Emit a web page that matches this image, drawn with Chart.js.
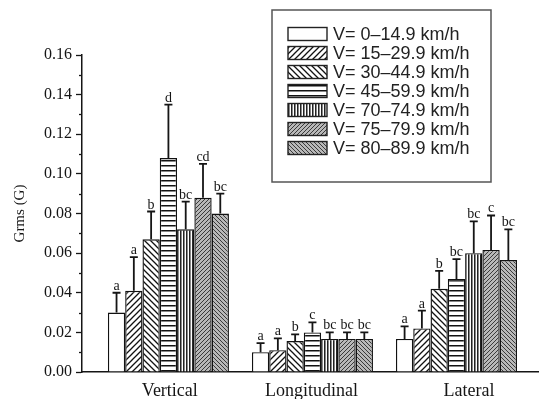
<!DOCTYPE html>
<html><head><meta charset="utf-8">
<script src="https://cdn.jsdelivr.net/npm/chart.js@4.4.1/dist/chart.umd.min.js"></script>
<style>html,body{margin:0;padding:0;background:#fff}#wrap{width:539px;height:399px;position:relative}</style>
</head><body><div id="wrap"><canvas id="c" width="539" height="399"></canvas></div>
<script>
// ---- data ----
const categories = ['Vertical', 'Longitudinal', 'Lateral'];
const seriesLabels = ['V= 0–14.9 km/h', 'V= 15–29.9 km/h', 'V= 30–44.9 km/h', 'V= 45–59.9 km/h',
                      'V= 70–74.9 km/h', 'V= 75–79.9 km/h', 'V= 80–89.9 km/h'];
const yTickValues = [0, 0.02, 0.04, 0.06, 0.08, 0.10, 0.12, 0.14, 0.16];
// mean Grms per category [Vertical, Longitudinal, Lateral]
const v0_15  = [0.030, 0.010, 0.0167];
const v15_30 = [0.041, 0.011, 0.022];
const v30_45 = [0.067, 0.0156, 0.042];
const v45_60 = [0.108, 0.020, 0.047];
const v70_75 = [0.072, 0.0167, 0.060];
const v75_80 = [0.088, 0.0167, 0.0616];
const v80_90 = [0.080, 0.0167, 0.0565];
// upper error (SD)
const e0_15  = [0.010, 0.0046, 0.0063];
const e15_30 = [0.017, 0.006, 0.009];
const e30_45 = [0.014, 0.0034, 0.009];
const e45_60 = [0.027, 0.005, 0.010];
const e70_75 = [0.014, 0.0033, 0.016];
const e75_80 = [0.017, 0.0033, 0.0174];
const e80_90 = [0.010, 0.0033, 0.0155];
// significance letters
const l0_15  = ['a', 'a', 'a'];
const l15_30 = ['a', 'a', 'a'];
const l30_45 = ['b', 'b', 'b'];
const l45_60 = ['d', 'c', 'bc'];
const l70_75 = ['bc', 'bc', 'bc'];
const l75_80 = ['cd', 'bc', 'c'];
const l80_90 = ['bc', 'bc', 'bc'];

const seriesValues = [v0_15, v15_30, v30_45, v45_60, v70_75, v75_80, v80_90];
const seriesErrors = [e0_15, e15_30, e30_45, e45_60, e70_75, e75_80, e80_90];
const seriesLetters = [l0_15, l15_30, l30_45, l45_60, l70_75, l75_80, l80_90];

// ---- patterns ----
function makePattern(kind) {
  const c = document.createElement('canvas');
  const x = c.getContext('2d');
  if (kind === 'white') {
    c.width = c.height = 4; x.fillStyle = '#fff'; x.fillRect(0, 0, 4, 4);
  } else if (kind === 'fwd' || kind === 'back') {
    const s = 6; c.width = c.height = s;
    x.fillStyle = '#fff'; x.fillRect(0, 0, s, s);
    x.strokeStyle = '#111'; x.lineWidth = 1.3;
    x.beginPath();
    if (kind === 'fwd') {
      x.moveTo(0, s); x.lineTo(s, 0);
      x.moveTo(-1, 1); x.lineTo(1, -1);
      x.moveTo(s - 1, s + 1); x.lineTo(s + 1, s - 1);
    } else {
      x.moveTo(0, 0); x.lineTo(s, s);
      x.moveTo(-1, s - 1); x.lineTo(1, s + 1);
      x.moveTo(s - 1, -1); x.lineTo(s + 1, 1);
    }
    x.stroke();
  } else if (kind === 'horiz') {
    c.width = 2; c.height = 5;
    x.fillStyle = '#fff'; x.fillRect(0, 0, 2, 5);
    x.fillStyle = '#111'; x.fillRect(0, 0, 2, 1.5);
  } else if (kind === 'vert') {
    c.width = 3; c.height = 2;
    x.fillStyle = '#fff'; x.fillRect(0, 0, 3, 2);
    x.fillStyle = '#222'; x.fillRect(0, 0, 1, 2);
    x.fillStyle = '#888'; x.fillRect(1, 0, 1, 2);
  } else if (kind === 'grayFwd' || kind === 'grayBack') {
    const s = 4; c.width = c.height = s;
    x.fillStyle = '#b8b8b8'; x.fillRect(0, 0, s, s);
    x.strokeStyle = '#3a3a3a'; x.lineWidth = 1;
    x.beginPath();
    if (kind === 'grayFwd') {
      x.moveTo(0, s); x.lineTo(s, 0);
      x.moveTo(-1, 1); x.lineTo(1, -1);
      x.moveTo(s - 1, s + 1); x.lineTo(s + 1, s - 1);
    } else {
      x.moveTo(0, 0); x.lineTo(s, s);
      x.moveTo(-1, s - 1); x.lineTo(1, s + 1);
      x.moveTo(s - 1, -1); x.lineTo(s + 1, 1);
    }
    x.stroke();
  }
  return document.getElementById('c').getContext('2d').createPattern(c, 'repeat');
}
const patternKinds = ['white', 'fwd', 'back', 'horiz', 'vert', 'grayFwd', 'grayBack'];
const patterns = patternKinds.map(makePattern);

const datasets = seriesValues.map((vals, i) => ({
  label: seriesLabels[i],
  data: vals.map((v, j) => ({ x: j, y: v })),
  backgroundColor: patterns[i],
  borderColor: '#111',
  borderWidth: 1.4,
  categoryPercentage: 0.855,
  barPercentage: 1.0
}));

const INK = '#151515';
const serif = '"Liberation Serif", "DejaVu Serif", serif';

const extras = {
  id: 'extras',
  afterDatasetsDraw(chart) {
    const ctx = chart.ctx;
    const y = chart.scales.y;
    const area = chart.chartArea;
    ctx.save();
    // minor ticks
    ctx.strokeStyle = INK; ctx.lineWidth = 1.3;
    for (let k = 0; k < yTickValues.length - 1; k++) {
      const mv = (yTickValues[k] + yTickValues[k + 1]) / 2;
      const py = Math.round(y.getPixelForValue(mv)) + 0.5;
      ctx.beginPath(); ctx.moveTo(area.left - 3, py); ctx.lineTo(area.left, py); ctx.stroke();
    }
    // error bars + letters
    datasets.forEach((ds, i) => {
      const meta = chart.getDatasetMeta(i);
      meta.data.forEach((bar, j) => {
        const top = y.getPixelForValue(seriesValues[i][j]);
        const et = y.getPixelForValue(seriesValues[i][j] + seriesErrors[i][j]);
        ctx.strokeStyle = INK; ctx.lineWidth = 1.8;
        ctx.beginPath();
        ctx.moveTo(bar.x, top); ctx.lineTo(bar.x, et);
        ctx.moveTo(bar.x - 4, et); ctx.lineTo(bar.x + 4, et);
        ctx.stroke();
        ctx.fillStyle = INK;
        ctx.font = '14px ' + serif;
        ctx.textAlign = 'center'; ctx.textBaseline = 'alphabetic';
        ctx.fillText(seriesLetters[i][j], bar.x, et - 3);
      });
    });
    ctx.restore();
  },
  afterDraw(chart) {
    const ctx = chart.ctx;
    ctx.save();
    // legend box
    ctx.fillStyle = '#fff';
    ctx.fillRect(272, 10, 219, 172);
    ctx.strokeStyle = '#555'; ctx.lineWidth = 1.5;
    ctx.strokeRect(272, 10, 219, 172);
    seriesLabels.forEach((lab, i) => {
      const cy = 34 + i * 19;
      ctx.fillStyle = patterns[i];
      ctx.fillRect(288, cy - 6.5, 39, 13);
      ctx.strokeStyle = '#222'; ctx.lineWidth = 1.4;
      ctx.strokeRect(288, cy - 6.5, 39, 13);
      ctx.fillStyle = '#222';
      ctx.font = '18px "Liberation Sans", Arial, sans-serif';
      ctx.textAlign = 'left'; ctx.textBaseline = 'middle';
      ctx.fillText(lab, 333, cy + 1);
    });
    ctx.restore();
  }
};

new Chart(document.getElementById('c'), {
  type: 'bar',
  data: { datasets },
  plugins: [extras],
  options: {
    responsive: false,
    animation: false,
    devicePixelRatio: 1,
    layout: { padding: { top: 55, left: 0, right: 0, bottom: 0 } },
    plugins: { legend: { display: false }, tooltip: { enabled: false } },
    scales: {
      x: {
        type: 'linear',
        min: -0.6,
        max: 2.573,
        offset: false,
        afterBuildTicks: (s) => { s.ticks = [{ value: 0.01 }, { value: 0.993 }, { value: 2.087 }]; },
        afterFit: (s) => { s.height = 27; },
        ticks: {
          autoSkip: false, maxRotation: 0,
          callback: (v, idx) => categories[idx],
          font: { family: serif, size: 18 },
          color: INK,
          padding: 8
        },
        grid: { display: true, drawOnChartArea: false, drawTicks: false },
        border: { display: true, color: INK, width: 1.5 }
      },
      y: {
        min: 0, max: 0.16,
        afterBuildTicks: (s) => { s.ticks = yTickValues.map(v => ({ value: v })); },
        afterFit: (s) => { s.width = 82; },
        ticks: {
          callback: (v) => Number(v).toFixed(2),
          font: { family: serif, size: 16 },
          color: INK,
          padding: 4
        },
        grid: { display: true, drawOnChartArea: false, drawTicks: true, tickLength: 6, color: INK, tickWidth: 1.3 },
        border: { display: true, color: INK, width: 1.5 },
        title: {
          display: true, text: 'Grms (G)',
          font: { family: serif, size: 15 },
          color: INK,
          padding: { top: 11, bottom: 0 }
        }
      }
    }
  }
});
</script>
</body></html>
